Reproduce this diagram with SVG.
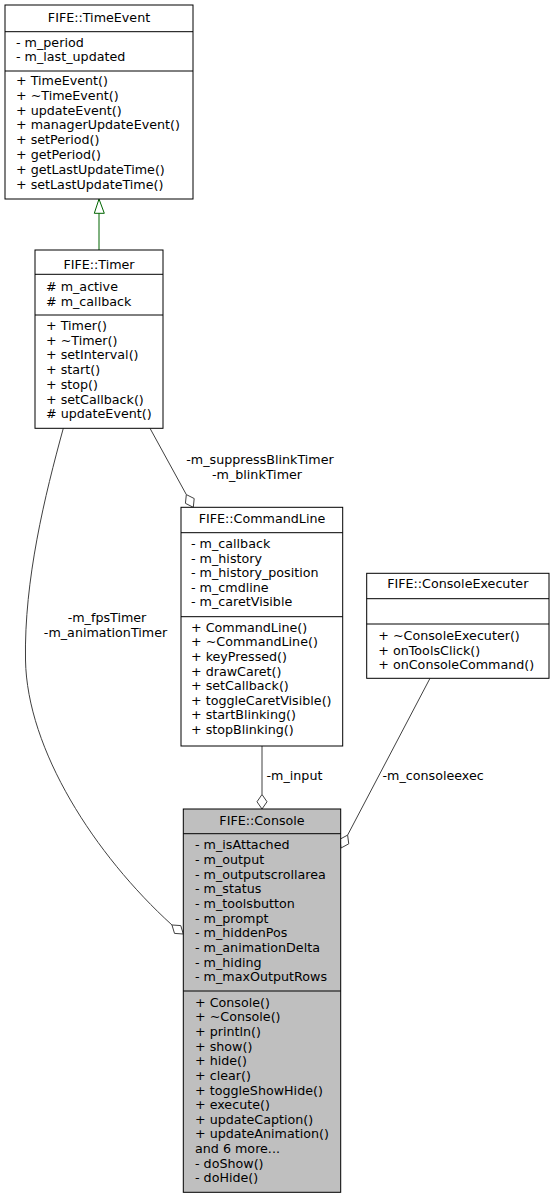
<svg xmlns="http://www.w3.org/2000/svg" width="554" height="1199" viewBox="0 0 554 1199">
<style>
text{font-family:"DejaVu Sans","Liberation Sans",sans-serif;font-size:12.7px;fill:#000}
.t{text-anchor:middle}
.box{fill:#fff;stroke:#000;stroke-width:1}
.cur{fill:#bfbfbf;stroke:#000;stroke-width:1}
.sep{stroke:#000;stroke-width:1}
.e{fill:none;stroke:#404040;stroke-width:1}
.d{fill:#fff;stroke:#404040;stroke-width:1}
.inh{fill:none;stroke:#006400;stroke-width:1}
.tri{fill:#fff;stroke:#006400;stroke-width:1}
</style>
<rect width="554" height="1199" fill="#fff"/>
<g id="connectors">
<line class="inh" x1="99" y1="213" x2="99" y2="250"/>
<polygon class="tri" points="99,199 94.3,213.3 104.3,213.3"/>
<line class="e" x1="150" y1="428.3" x2="186.34" y2="494.58"/>
<polygon class="d" points="186.34,494.58 185.43,503.34 193.3,507.3 194.2,498.54"/>
<path class="e" d="M63.3,428.3 C45,495 24,580 25.5,660 C27,750 95,855 171.96,924.97"/>
<polygon class="d" points="171.96,924.97 174.5,933.4 183.3,934 180.75,925.58"/>
<line class="e" x1="262" y1="746" x2="262" y2="794.5"/>
<polygon class="d" points="262,794.5 257,801.75 262,809 267,801.75"/>
<line class="e" x1="430" y1="678.3" x2="347.61" y2="835.1"/>
<polygon class="d" points="347.61,835.1 348.75,843.83 341,848 339.85,839.27"/>
<text class="t" x="260" y="464">-m_suppressBlinkTimer</text>
<text class="t" x="257" y="479">-m_blinkTimer</text>
<text class="t" x="107" y="622.3">-m_fpsTimer</text>
<text class="t" x="105.5" y="636.8">-m_animationTimer</text>
<text x="266.5" y="779.5">-m_input</text>
<text x="382.5" y="779.5">-m_consoleexec</text>
</g>
<g id="TimeEvent">
<rect class="box" x="5" y="5" width="188" height="194"/>
<line class="sep" x1="5" y1="31.7" x2="193" y2="31.7"/>
<line class="sep" x1="5" y1="71" x2="193" y2="71"/>
<text class="t" x="99" y="21.5">FIFE::TimeEvent</text>
<text x="16" y="46.7">- m_period</text>
<text x="16" y="61.4">- m_last_updated</text>
<text x="16" y="85">+ TimeEvent()</text>
<text x="16" y="99.8">+ ~TimeEvent()</text>
<text x="16" y="114.6">+ updateEvent()</text>
<text x="16" y="129.4">+ managerUpdateEvent()</text>
<text x="16" y="144.2">+ setPeriod()</text>
<text x="16" y="159">+ getPeriod()</text>
<text x="16" y="173.8">+ getLastUpdateTime()</text>
<text x="16" y="188.6">+ setLastUpdateTime()</text>
</g>
<g id="Timer">
<rect class="box" x="35" y="250" width="128" height="178.3"/>
<line class="sep" x1="35" y1="274.3" x2="163" y2="274.3"/>
<line class="sep" x1="35" y1="315" x2="163" y2="315"/>
<text class="t" x="99" y="269">FIFE::Timer</text>
<text x="46" y="290.7"># m_active</text>
<text x="46" y="305.7"># m_callback</text>
<text x="46" y="330">+ Timer()</text>
<text x="46" y="344.7">+ ~Timer()</text>
<text x="46" y="359.4">+ setInterval()</text>
<text x="46" y="374.1">+ start()</text>
<text x="46" y="388.8">+ stop()</text>
<text x="46" y="403.5">+ setCallback()</text>
<text x="46" y="418.2"># updateEvent()</text>
</g>
<g id="CommandLine">
<rect class="box" x="181" y="507.3" width="161.7" height="238.7"/>
<line class="sep" x1="181" y1="532.7" x2="342.7" y2="532.7"/>
<line class="sep" x1="181" y1="616.7" x2="342.7" y2="616.7"/>
<text class="t" x="262" y="523">FIFE::CommandLine</text>
<text x="191" y="548.3">- m_callback</text>
<text x="191" y="562.8">- m_history</text>
<text x="191" y="577.3">- m_history_position</text>
<text x="191" y="591.8">- m_cmdline</text>
<text x="191" y="606.3">- m_caretVisible</text>
<text x="191" y="631.7">+ CommandLine()</text>
<text x="191" y="646.3">+ ~CommandLine()</text>
<text x="191" y="660.9">+ keyPressed()</text>
<text x="191" y="675.5">+ drawCaret()</text>
<text x="191" y="690.1">+ setCallback()</text>
<text x="191" y="704.7">+ toggleCaretVisible()</text>
<text x="191" y="719.3">+ startBlinking()</text>
<text x="191" y="733.9">+ stopBlinking()</text>
</g>
<g id="ConsoleExecuter">
<rect class="box" x="366.7" y="573.3" width="182.3" height="105"/>
<line class="sep" x1="366.7" y1="598.7" x2="549" y2="598.7"/>
<line class="sep" x1="366.7" y1="624" x2="549" y2="624"/>
<text class="t" x="457.8" y="588.3">FIFE::ConsoleExecuter</text>
<text x="378.3" y="640">+ ~ConsoleExecuter()</text>
<text x="378.3" y="654.7">+ onToolsClick()</text>
<text x="378.3" y="669.4">+ onConsoleCommand()</text>
</g>
<g id="Console">
<rect class="cur" x="183.3" y="809" width="157.4" height="383.3"/>
<line class="sep" x1="183.3" y1="833.7" x2="340.7" y2="833.7"/>
<line class="sep" x1="183.3" y1="991" x2="340.7" y2="991"/>
<text class="t" x="262" y="824.7">FIFE::Console</text>
<text x="195" y="849.3">- m_isAttached</text>
<text x="195" y="864">- m_output</text>
<text x="195" y="878.6">- m_outputscrollarea</text>
<text x="195" y="893.3">- m_status</text>
<text x="195" y="908">- m_toolsbutton</text>
<text x="195" y="922.7">- m_prompt</text>
<text x="195" y="937.3">- m_hiddenPos</text>
<text x="195" y="952">- m_animationDelta</text>
<text x="195" y="966.7">- m_hiding</text>
<text x="195" y="981.3">- m_maxOutputRows</text>
<text x="195" y="1006.7">+ Console()</text>
<text x="195" y="1021.3">+ ~Console()</text>
<text x="195" y="1036">+ println()</text>
<text x="195" y="1050.6">+ show()</text>
<text x="195" y="1065.2">+ hide()</text>
<text x="195" y="1079.9">+ clear()</text>
<text x="195" y="1094.5">+ toggleShowHide()</text>
<text x="195" y="1109.1">+ execute()</text>
<text x="195" y="1123.7">+ updateCaption()</text>
<text x="195" y="1138.4">+ updateAnimation()</text>
<text x="195" y="1153">and 6 more...</text>
<text x="195" y="1167.6">- doShow()</text>
<text x="195" y="1182.3">- doHide()</text>
</g>
</svg>
